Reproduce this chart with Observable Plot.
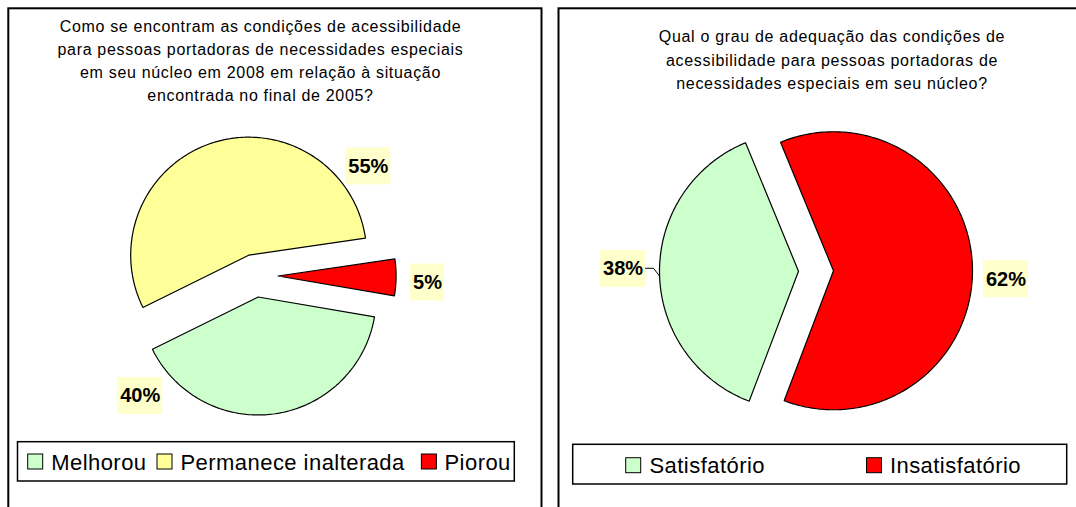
<!DOCTYPE html>
<html>
<head>
<meta charset="utf-8">
<script src="https://cdn.jsdelivr.net/npm/d3@7"></script>
<script src="https://cdn.jsdelivr.net/npm/@observablehq/plot@0.6"></script>
<style>
  html, body { margin: 0; padding: 0; background: #fff; }
</style>
</head>
<body>
<div id="chart"></div>
<script>
// ---------------- DATA ----------------
const leftCategories = ["Melhorou", "Permanece inalterada", "Piorou"];
const leftValues = [40, 55, 5];
const rightCategories = ["Satisfatório", "Insatisfatório"];
const rightValues = [38, 62];
const leftTitleLines = [
  "Como se encontram as condições de acessibilidade",
  "para pessoas portadoras de necessidades especiais",
  "em seu núcleo em 2008 em relação à situação",
  "encontrada no final de 2005?"
];
const rightTitleLines = [
  "Qual o grau de adequação das condições de",
  "acessibilidade para pessoas portadoras de",
  "necessidades especiais em seu núcleo?"
];

// ---------------- LAYOUT / STYLE ----------------
const W = 1076, H = 507;
const FONT = "'Liberation Sans', Arial, Helvetica, sans-serif";
const colorDomain = [...leftCategories, ...rightCategories];
const colorRange = ["#ccffcc", "#ffff99", "#ff0000", "#ccffcc", "#ff0000"];
const labelBg = "#ffffcc";
const rad = Math.PI / 180;
const TITLE_SPACING = 0.68, LEGEND_SPACING = 0.45;

const panels = [
  {x1: 8.3, x2: 541.5, y1: 8.3, y2: 530},
  {x1: 558.5, x2: 1100, y1: 8.3, y2: 530}
];

const pies = [
  {cats: leftCategories, vals: leftValues, cx: 254.6, cy: 275.2, r: 118, start: 99.7,
   explode: [21.5, 21.5, 23], labelPolar: [[230, 154], [53.4, 149], [92.5, 149.6]], leader: [null, null, null]},
  {cats: rightCategories, vals: rightValues, cx: 815.5, cy: 270.5, r: 139, start: 200.8,
   explode: [17.5, 17.5], labelPolar: [[270.8, 175.5], [92.8, 172.7]], leader: [268, null]}
];

const titles = [
  {lines: leftTitleLines, x: 260, y0: 31.7, dy: 22.9},
  {lines: rightTitleLines, x: 831.5, y0: 41.7, dy: 23.3}
];

const legends = [
  {cats: leftCategories, box: {x1: 17.5, x2: 514.3, y1: 441.7, y2: 481},
   squareX: [27.7, 157, 421.4], textX: [50.7, 180, 444], squareY: 454, baseline: 469.3},
  {cats: rightCategories, box: {x1: 572.7, x2: 1066.7, y1: 444.3, y2: 484},
   squareX: [625.7, 866.5], textX: [649, 889.4], squareY: 457.7, baseline: 472.7}
];
const SQ = 15;

// ---------------- DERIVED GEOMETRY ----------------
const ctx = document.createElement("canvas").getContext("2d");
ctx.font = "bold 20px " + FONT;

const slicePts = [], labels = [], leaders = [];
pies.forEach((p, pi) => {
  const s = p.start * rad;
  const arcs = d3.pie().sort(null).value(d => d).startAngle(s).endAngle(s + 2 * Math.PI)(p.vals);
  arcs.forEach((a, i) => {
    const mid = (a.startAngle + a.endAngle) / 2;
    const ax = p.cx + p.explode[i] * Math.sin(mid);
    const ay = p.cy - p.explode[i] * Math.cos(mid);
    const id = pi + "-" + i;
    const cat = p.cats[i];
    slicePts.push({id, cat, x: ax, y: ay});
    const n = Math.max(4, Math.ceil((a.endAngle - a.startAngle) / rad));
    for (let k = 0; k <= n; k++) {
      const t = a.startAngle + (a.endAngle - a.startAngle) * k / n;
      slicePts.push({id, cat, x: ax + p.r * Math.sin(t), y: ay - p.r * Math.cos(t)});
    }
    slicePts.push({id, cat, x: ax, y: ay});
    const [ang, dist] = p.labelPolar[i];
    const lx = ax + dist * Math.sin(ang * rad);
    const ly = ay - dist * Math.cos(ang * rad);
    const text = `${p.vals[i]}%`;
    const w = ctx.measureText(text).width + 5;
    labels.push({text, x: lx, y: ly, x1: lx - w / 2, x2: lx + w / 2, y1: ly - 18.5, y2: ly + 18.5});
    if (p.leader[i] != null) {
      const la = p.leader[i] * rad;
      const sx = lx + w / 2, sy = ly - 0.5;
      leaders.push({id, x: sx, y: sy});
      leaders.push({id, x: sx + 8, y: sy});
      leaders.push({id, x: ax + p.r * Math.sin(la), y: ay - p.r * Math.cos(la)});
    }
  });
});

const titleRows = titles.flatMap(t => t.lines.map((line, i) => ({text: line, x: t.x, y: t.y0 + i * t.dy})));
const legendBoxes = legends.map(l => l.box);
const legendSquares = legends.flatMap(l => l.cats.map((c, i) => ({cat: c, x1: l.squareX[i], x2: l.squareX[i] + SQ, y1: l.squareY, y2: l.squareY + SQ})));
const legendTexts = legends.flatMap(l => l.cats.map((c, i) => ({text: c, x: l.textX[i], y: l.baseline})));

// ---------------- PLOT ----------------
const chart = Plot.plot({
  width: W, height: H, margin: 0,
  x: {domain: [0, W], range: [0, W], axis: null},
  y: {domain: [0, H], range: [0, H], axis: null},
  color: {domain: colorDomain, range: colorRange},
  style: {fontFamily: FONT, background: "#fff", overflow: "hidden"},
  marks: [
    Plot.rect(panels, {x1: "x1", x2: "x2", y1: "y1", y2: "y2", fill: "none", stroke: "#000", strokeWidth: 2}),
    Plot.text(titleRows, {x: "x", y: "y", text: "text", fontSize: 16, lineAnchor: "bottom", fill: "#000"}),
    Plot.line(slicePts, {x: "x", y: "y", z: "id", fill: "cat", stroke: "#000", strokeWidth: 1.2, curve: "linear", strokeLinejoin: "miter"}),
    Plot.line(leaders, {x: "x", y: "y", z: "id", stroke: "#000", strokeWidth: 1}),
    Plot.rect(labels, {x1: "x1", x2: "x2", y1: "y1", y2: "y2", fill: labelBg}),
    Plot.text(labels, {x: "x", y: "y", text: "text", fontSize: 20, fontWeight: "bold", fill: "#000", lineAnchor: "middle"}),
    Plot.rect(legendBoxes, {x1: "x1", x2: "x2", y1: "y1", y2: "y2", fill: "#fff", stroke: "#000", strokeWidth: 1.5}),
    Plot.rect(legendSquares, {x1: "x1", x2: "x2", y1: "y1", y2: "y2", fill: "cat", stroke: "#000", strokeWidth: 1}),
    Plot.text(legendTexts, {x: "x", y: "y", text: "text", fontSize: 22, textAnchor: "start", lineAnchor: "bottom", fill: "#000"})
  ]
});
// letter spacing to mimic the original renderer's wider text
d3.select(chart).selectAll("g[font-size='16'] text").attr("letter-spacing", TITLE_SPACING);
d3.select(chart).selectAll("g[font-size='22'] text").attr("letter-spacing", LEGEND_SPACING);
document.getElementById("chart").appendChild(chart);
</script>
</body>
</html>
